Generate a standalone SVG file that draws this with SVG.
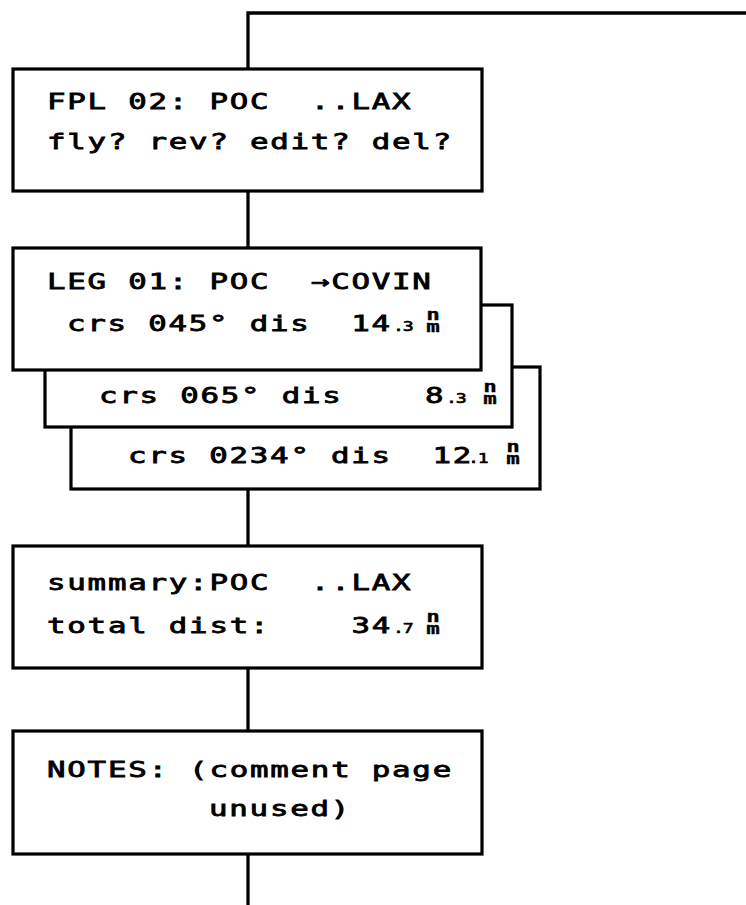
<svg xmlns="http://www.w3.org/2000/svg" width="746" height="905" viewBox="0 0 746 905">
<style>
.box{fill:#fff;stroke:#000;stroke-width:3.2}
.ln{fill:none;stroke:#000;stroke-width:3.3}
.t{font-family:"DejaVu Sans Mono",monospace;font-size:22px;letter-spacing:1.26px;white-space:pre;fill:#000;stroke:#000;stroke-width:0.8}
.s{font-family:"DejaVu Sans Mono",monospace;font-size:14px;letter-spacing:-1px;white-space:pre;fill:#000;stroke:#000;stroke-width:0.6}
.u{font-family:"DejaVu Sans Mono",monospace;font-size:15px;font-weight:bold;text-anchor:middle;fill:#000;stroke:#000;stroke-width:0.3}
</style>
<rect width="746" height="905" fill="#fff"/>
<g id="connectors">
<polyline class="ln" points="746,13 248,13 248,69"/>
<line class="ln" x1="248" y1="191" x2="248" y2="248"/>
<line class="ln" x1="248" y1="489" x2="248" y2="546"/>
<line class="ln" x1="248" y1="668" x2="248" y2="731"/>
<line class="ln" x1="248" y1="854" x2="248" y2="905"/>
</g>
<g id="fpl">
<rect class="box" x="13" y="69" width="469" height="122"/>
<text class="t" transform="translate(47,109) scale(1.4,1)">FPL 02: POC  ..LAX</text>
<text class="t" transform="translate(47,149) scale(1.4,1)">fly? rev? edit? del?</text>
</g>
<g id="leg3">
<rect class="box" x="71" y="367" width="469" height="122"/>
<text class="t" transform="translate(128,463) scale(1.4,1)">crs 0234° dis  12</text>
<text class="s" transform="translate(468,463) scale(1.3,1)">.1</text>
<text class="u" transform="translate(513,0) scale(1.5,1)"><tspan x="0" y="452">n</tspan><tspan x="0" y="464">m</tspan></text>
</g>
<g id="leg2">
<rect class="box" x="45" y="305" width="467" height="122"/>
<text class="t" transform="translate(99,403) scale(1.4,1)">crs 065° dis</text>
<text class="t" transform="translate(425,403) scale(1.4,1)">8</text>
<text class="s" transform="translate(446,403) scale(1.3,1)">.3</text>
<text class="u" transform="translate(490,0) scale(1.5,1)"><tspan x="0" y="392">n</tspan><tspan x="0" y="404">m</tspan></text>
</g>
<g id="leg1">
<rect class="box" x="13" y="248" width="468" height="122"/>
<text class="t" transform="translate(47,289) scale(1.4,1)">LEG 01: POC  →COVIN</text>
<text class="t" transform="translate(67,331) scale(1.4,1)">crs 045° dis  14</text>
<text class="s" transform="translate(393,331) scale(1.3,1)">.3</text>
<text class="u" transform="translate(433,0) scale(1.5,1)"><tspan x="0" y="320">n</tspan><tspan x="0" y="332">m</tspan></text>
</g>
<g id="summary">
<rect class="box" x="13" y="546" width="469" height="122"/>
<text class="t" transform="translate(47,590) scale(1.4,1)">summary:POC  ..LAX</text>
<text class="t" transform="translate(47,633) scale(1.4,1)">total dist:    34</text>
<text class="s" transform="translate(393,633) scale(1.3,1)">.7</text>
<text class="u" transform="translate(433,0) scale(1.5,1)"><tspan x="0" y="622">n</tspan><tspan x="0" y="634">m</tspan></text>
</g>
<g id="notes">
<rect class="box" x="13" y="731" width="469" height="123"/>
<text class="t" transform="translate(47,777) scale(1.4,1)">NOTES: (comment page</text>
<text class="t" transform="translate(209,816) scale(1.4,1)">unused)</text>
</g>
</svg>
